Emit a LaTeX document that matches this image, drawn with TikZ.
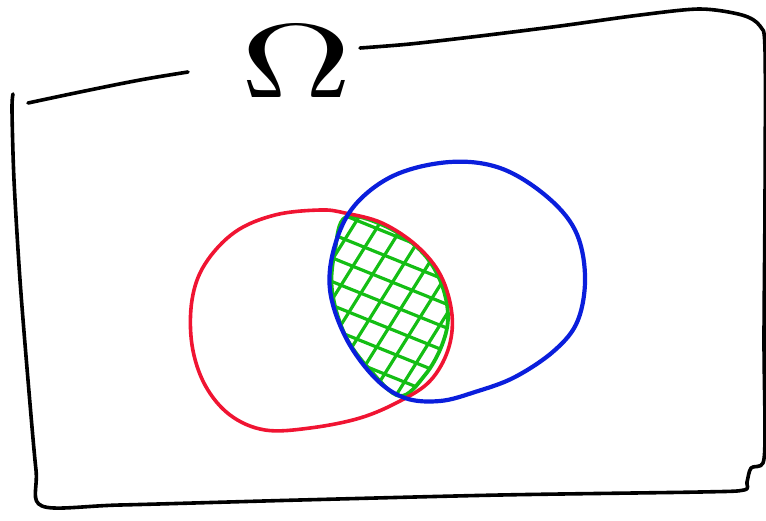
\documentclass[tikz,border=0pt]{standalone}
\begin{document}
\begin{tikzpicture}[x=1pt,y=-1pt,line cap=round,line join=round,
  frame/.style={line width=3.6pt,black},
  redset/.style={line width=3.6pt,color={rgb,255:red,240;green,20;blue,50}},
  blueset/.style={line width=4.2pt,color={rgb,255:red,10;green,30;blue,220}},
  greenline/.style={line width=3.8pt,color={rgb,255:red,20;green,190;blue,20}},
  hatch/.style={line width=3.2pt,color={rgb,255:red,20;green,190;blue,20}}]
\useasboundingbox (0,0) rectangle (766,520);
% frame
\draw[frame] plot[smooth,tension=0.6] coordinates {(28,103) (80,92) (140,80) (188,72)};
\draw[frame] plot[smooth,tension=0.5] coordinates {(360,48) (410,44) (480,36) (560,26) (640,15) (700,9) (742,15) (760,26) (765,50) (765,200) (764,340) (765,430) (763,463) (751,468) (747,482) (744,490) (700,492) (500,495) (300,500) (120,505) (42,506) (36,470) (28,380) (20,280) (14,180) (12,110) (13,94)};
% Omega
\node[inner sep=0pt,xscale=15.5,yscale=10.5] (omega) at (296,62) {$\Omega$};
% intersection hatch
\begin{scope}
\clip plot[smooth cycle,tension=0.6] coordinates {(346,217) (335,250) (332,290) (345,335) (370,370) (400,396) (425,375) (442,345) (448,315) (440,280) (420,250) (385,226)};
\begin{scope}[shift={(390,305)},rotate=-22]
\foreach \i in {-220,-198,...,220} \draw[hatch] (-220,\i) -- (220,\i);
\end{scope}
\begin{scope}[shift={(390,305)},rotate=58]
\foreach \i in {-220,-199,...,220} \draw[hatch] (-220,\i) -- (220,\i);
\end{scope}
\end{scope}
\draw[greenline] plot[smooth cycle,tension=0.6] coordinates {(346,217) (335,250) (332,290) (345,335) (370,370) (400,396) (425,375) (442,345) (448,315) (440,280) (420,250) (385,226)};
% red set
\draw[redset] plot[smooth cycle,tension=0.6] coordinates {(320,210) (345,213) (382,223) (417,246) (441,276) (452,315) (448,350) (430,381) (400,401) (360,418) (310,428) (265,430) (230,415) (205,385) (192,345) (192,300) (205,264) (235,232) (275,215)};
% blue set
\draw[blueset] plot[smooth cycle,tension=0.6] coordinates {(450,162) (500,168) (545,195) (575,230) (585,275) (578,320) (555,350) (515,377) (475,392) (440,401) (405,398) (375,378) (346,338) (330,290) (335,245) (355,205) (395,175)};
\end{tikzpicture}
\end{document}
